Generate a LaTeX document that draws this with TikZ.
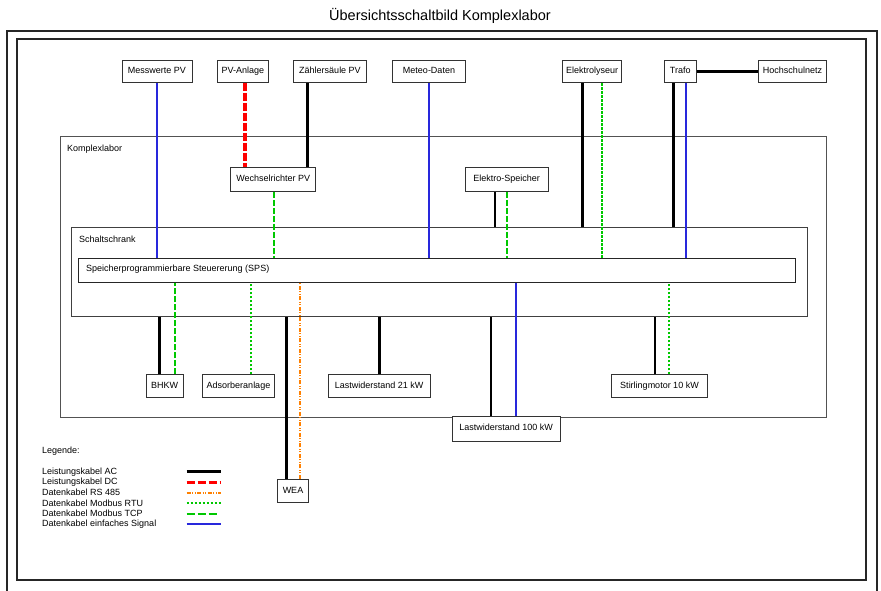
\documentclass[tikz,border=0pt]{standalone}
\usepackage{fontspec}
\setmainfont{Liberation Sans}
\definecolor{dcred}{RGB}{255,0,0}
\definecolor{rsorange}{RGB}{255,128,0}
\definecolor{busgreen}{RGB}{0,200,0}
\definecolor{sigblue}{RGB}{40,40,220}
\begin{document}
\begin{tikzpicture}[x=1pt,y=-1pt,
  box/.style={draw=black!80, line width=0.9pt, fill=white, inner sep=0pt, minimum height=22pt, text height=6.6pt, text depth=1.9pt, font=\fontsize{9}{10}\selectfont},
  area/.style={draw=black!75, line width=1pt, inner sep=0pt, anchor=north west},
  lbl/.style={anchor=west, inner sep=0pt, font=\fontsize{9}{10}\selectfont},
  ac/.style={draw=black, line width=2.6pt},
  dc/.style={draw=dcred, line width=3.6pt, dash pattern=on 8pt off 2pt},
  rs/.style={draw=rsorange, line width=1.6pt, dash pattern=on 4pt off 1.5pt on 1pt off 1.5pt on 1pt off 1.5pt},
  rtu/.style={draw=busgreen, line width=1.6pt, dash pattern=on 2.5pt off 1.5pt},
  tcp/.style={draw=busgreen, line width=2pt, dash pattern=on 6pt off 2pt},
  sig/.style={draw=sigblue, line width=1.7pt}]

\useasboundingbox (0,0) rectangle (881,591);

% title and frames
\node[font=\fontsize{14.5}{16}\selectfont] (title) at (440,16) {Übersichtsschaltbild Komplexlabor};
\draw[line width=1.2pt, black!85] (7,591) -- (7,31) -- (877,31) -- (877,591);
\draw[line width=1.2pt, black!85] (17,39) rectangle (866,580);

% areas
\node[area, draw=black!68, line width=1.2pt, minimum width=766.5pt, minimum height=280.7pt] (kl) at (59.5,135.8) {};
\node[lbl] (kllbl) at (67,149) {Komplexlabor};
\node[area, minimum width=735.8pt, minimum height=89pt] (ss) at (70.7,226.5) {};
\node[lbl] (sslbl) at (79,239) {Schaltschrank};
\node[area, draw=black!85, minimum width=716.7pt, minimum height=23.8pt] (sps) at (78.3,257.7) {};
\node[lbl] (spslbl) at (86,269.6) {Speicherprogrammierbare Steuererung (SPS)};

% top boxes
\node[box, minimum width=70pt] (mpv) at (157,71.6) {Messwerte PV};
\node[box, minimum width=51pt] (pva) at (242.8,71.6) {PV-Anlage};
\node[box, minimum width=73.4pt] (zps) at (330,71.6) {Zählersäule PV};
\node[box, minimum width=73.3pt] (met) at (429,71.6) {Meteo-Daten};
\node[box, minimum width=59pt] (ely) at (592.2,71.6) {Elektrolyseur};
\node[box, minimum width=31.7pt] (tra) at (680.2,71.6) {Trafo};
\node[box, minimum width=68.4pt] (hsn) at (792.5,71.6) {Hochschulnetz};

% inside Komplexlabor
\node[box, minimum width=85pt, minimum height=23.6pt] (wr) at (273.2,179.5) {Wechselrichter PV};
\node[box, minimum width=83.3pt, minimum height=23.6pt] (esp) at (506.7,179.5) {Elektro-Speicher};

% bottom boxes
\node[box, minimum width=37.3pt, minimum height=23pt] (bhkw) at (164.7,386.2) {BHKW};
\node[box, minimum width=72.4pt, minimum height=23pt] (ads) at (238.5,386.2) {Adsorberanlage};
\node[box, minimum width=101.7pt, minimum height=23pt] (l21) at (379.2,386.2) {Lastwiderstand 21 kW};
\node[box, minimum width=107.7pt, minimum height=25pt] (l100) at (506.2,428.5) {Lastwiderstand 100 kW};
\node[box, minimum width=96.4pt, minimum height=23pt] (stm) at (659.5,386.2) {Stirlingmotor 10 kW};
\node[box, minimum width=31.4pt, minimum height=22.7pt] (wea) at (293,490.7) {WEA};

% top connectors
\draw[sig] (mpv.south) -- (mpv.south |- sps.north);
\draw[dc] ([xshift=2.2pt]pva.south) -- ([xshift=2.2pt]pva.south |- wr.north);
\draw[ac] ([xshift=-22.7pt]zps.south) -- ([xshift=-22.7pt]zps.south |- wr.north);
\draw[sig] (met.south) -- (met.south |- sps.north);
\draw[ac] ([xshift=-10pt]ely.south) -- ([xshift=-10pt]ely.south |- ss.north);
\draw[rtu] ([xshift=10pt]ely.south) -- ([xshift=10pt]ely.south |- sps.north);
\draw[ac] ([xshift=-7pt]tra.south) -- ([xshift=-7pt]tra.south |- ss.north);
\draw[sig] ([xshift=6pt]tra.south) -- ([xshift=6pt]tra.south |- sps.north);
\draw[ac] (tra.east) -- (hsn.west);
\draw[tcp] ([xshift=0.8pt]wr.south) -- ([xshift=0.8pt]wr.south |- sps.north);
\draw[ac] ([xshift=-11.7pt]esp.south) -- ([xshift=-11.7pt]esp.south |- ss.north);
\draw[tcp] (esp.south) -- (esp.south |- sps.north);

% bottom connectors
\draw[ac] ([xshift=-5.4pt]bhkw.north) -- ([xshift=-5.4pt]bhkw.north |- ss.south);
\draw[tcp] ([xshift=10.6pt]bhkw.north) -- ([xshift=10.6pt]bhkw.north |- sps.south);
\draw[rtu] ([xshift=12.5pt]ads.north) -- ([xshift=12.5pt]ads.north |- sps.south);
\draw[ac] ([xshift=-6.3pt]wea.north) -- ([xshift=-6.3pt]wea.north |- ss.south);
\draw[rs] ([xshift=7pt]wea.north) -- ([xshift=7pt]wea.north |- sps.south);
\draw[ac, line width=3.4pt] (l21.north) -- (l21.north |- ss.south);
\draw[ac] ([xshift=-15.2pt]l100.north) -- ([xshift=-15.2pt]l100.north |- ss.south);
\draw[sig] ([xshift=9.8pt]l100.north) -- ([xshift=9.8pt]l100.north |- sps.south);
\draw[ac, line width=2pt] ([xshift=-4.8pt]stm.north) -- ([xshift=-4.8pt]stm.north |- ss.south);
\draw[rtu] ([xshift=9.2pt]stm.north) -- ([xshift=9.2pt]stm.north |- sps.south);

% legend
\node[lbl] (leg) at (42,451) {Legende:};
\node[lbl] (t1) at (42,471.7) {Leistungskabel AC};
\node[lbl] (t2) at (42,482.2) {Leistungskabel DC};
\node[lbl] (t3) at (42,492.7) {Datenkabel RS 485};
\node[lbl] (t4) at (42,503.1) {Datenkabel Modbus RTU};
\node[lbl] (t5) at (42,513.6) {Datenkabel Modbus TCP};
\node[lbl] (t6) at (42,524.1) {Datenkabel einfaches Signal};
\coordinate (a1) at (186.7,471.7); \coordinate (b1) at (221,471.7);
\coordinate (a2) at (186.7,482.2); \coordinate (b2) at (221,482.2);
\coordinate (a3) at (186.7,492.7); \coordinate (b3) at (221,492.7);
\coordinate (a4) at (186.7,503.1); \coordinate (b4) at (221,503.1);
\coordinate (a5) at (186.7,513.6); \coordinate (b5) at (219,513.6);
\coordinate (a6) at (186.7,524.1); \coordinate (b6) at (221,524.1);
\draw[ac, line width=3.5pt] (a1) -- (b1);
\draw[dc, line width=3pt, dash pattern=on 8pt off 3pt] (a2) -- (b2);
\draw[rs] (a3) -- (b3);
\draw[rtu, line width=1.8pt] (a4) -- (b4);
\draw[tcp, line width=2pt, dash pattern=on 8pt off 3pt] (a5) -- (b5);
\draw[sig, line width=2pt] (a6) -- (b6);
\end{tikzpicture}
\end{document}
